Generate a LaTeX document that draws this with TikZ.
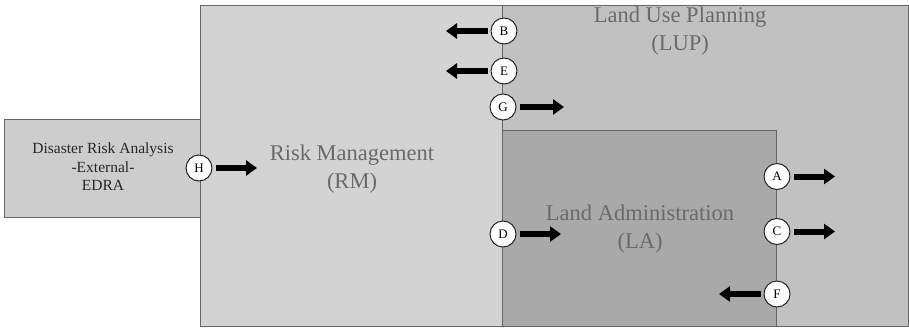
\documentclass[tikz,border=0pt]{standalone}
\usepackage{fontspec}
\setmainfont{Liberation Serif}
\usetikzlibrary{arrows.meta}
\definecolor{rmgray}{HTML}{D3D3D3}
\definecolor{lupgray}{HTML}{C1C1C1}
\definecolor{lagray}{HTML}{A9A9A9}
\definecolor{edragray}{HTML}{CDCDCD}
\definecolor{labelgray}{HTML}{6A6A6A}
\tikzset{
 areabox/.style={draw=black!60,line width=0.8pt},
 arealabel/.style={text=labelgray,align=center,font=\fontsize{22.5}{28}\selectfont},
 flowcircle/.style={circle,draw=black!85,fill=white,line width=1pt,minimum size=26pt,inner sep=0pt,font=\fontsize{13}{13}\selectfont},
 flowarrow/.style={line width=6pt,-{Triangle[length=11pt,width=15pt]},shorten <=3pt}
}
\newcommand{\flowpoint}[3]{%
 \node[flowcircle] ({#1}) at ({#2}) {#3};%
}

\begin{document}
\begin{tikzpicture}[x=1pt,y=-1pt]
  \useasboundingbox (0,0) rectangle (909,329);
  % areas
  \fill[rmgray] (200,5) rectangle (908,326);
  \fill[lupgray] (502,5) rectangle (908,326);
  \draw[areabox,fill=lagray] (502,130) rectangle (776,326);
  \draw[areabox] (502,5) -- (502,130);
  \draw[areabox] (200,5) rectangle (908,326);
  \draw[areabox,fill=edragray] (4,119) rectangle (200,217);
  \node[arealabel] (LUP) at (680,31) {Land Use Planning\\(LUP)};
  \node[arealabel] (RM) at (352,169) {Risk Management\\(RM)};
  \node[arealabel] (LA) at (640,229) {Land Administration\\(LA)};
  \node[align=center,text=black!85,font=\fontsize{15.5}{18.5}\selectfont] (EDRA) at (103,167) {Disaster Risk Analysis\\-External-\\EDRA};
  % flows
  \flowpoint{B}{504,31}{B}
  \flowpoint{E}{504,71}{E}
  \flowpoint{G}{503,107}{G}
  \flowpoint{H}{199,168}{H}
  \flowpoint{D}{503,234}{D}
  \flowpoint{A}{777,176.5}{A}
  \flowpoint{C}{777,231.5}{C}
  \flowpoint{F}{777,294}{F}
  \coordinate (Bend) at (446,31);
  \coordinate (Eend) at (446,71);
  \coordinate (Gend) at (564,107);
  \coordinate (Hend) at (257,168);
  \coordinate (Dend) at (561,234);
  \coordinate (Aend) at (835,176.5);
  \coordinate (Cend) at (835,231.5);
  \coordinate (Fend) at (719,294);
  \foreach \p in {B,E,G,H,D,A,C,F}
    \draw[flowarrow] (\p) -- (\p end);
\end{tikzpicture}
\end{document}
